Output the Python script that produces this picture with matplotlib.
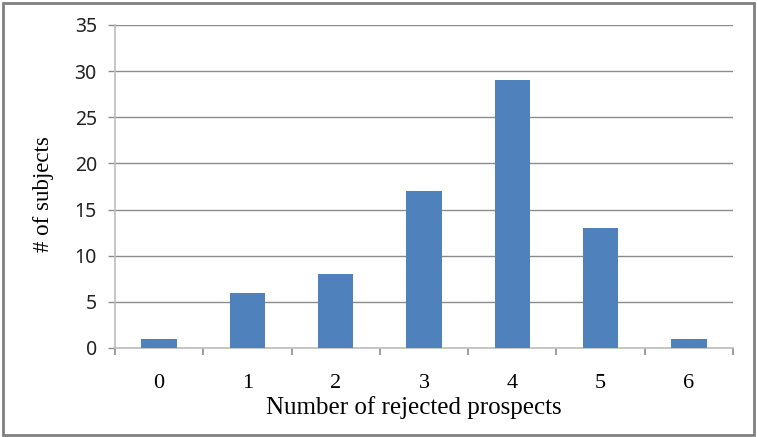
import matplotlib
matplotlib.use("Agg")
import matplotlib.pyplot as plt
from matplotlib.patches import Rectangle

# Data
categories = ["0", "1", "2", "3", "4", "5", "6"]
counts = [1, 6, 8, 17, 29, 13, 1]
y_ticks = [0, 5, 10, 15, 20, 25, 30, 35]

fig = plt.figure(figsize=(7.57, 4.37), dpi=100)
ax = fig.add_axes([0.1519, 0.2037, 0.8164, 0.7391])

x = list(range(len(categories)))
ax.bar(x, counts, width=0.4, color="#4F81BD", zorder=3)

ax.set_xlim(-0.5, len(categories) - 0.5)
ax.set_ylim(0, 35)
ax.set_yticks(y_ticks)
ax.set_yticklabels([str(v) for v in y_ticks], family="Noto Sans", fontsize=14, color="#222222")
ax.grid(axis="y", color="#8c8c8c", linewidth=1, zorder=0)

# category labels at centres, tick marks at boundaries
ax.set_xticks(x)
ax.set_xticklabels(categories, family="Liberation Serif", fontsize=16)
ax.tick_params(axis="x", length=0, pad=19)
ax.set_xticks([i - 0.5 for i in range(len(categories) + 1)], minor=True)
ax.tick_params(axis="x", which="minor", length=5, color="#8c8c8c", width=1.2)
ax.tick_params(axis="y", length=5, color="#8c8c8c", width=1, pad=8)

for side in ["top", "right"]:
    ax.spines[side].set_visible(False)
ax.spines["left"].set_color("#bdbdbd")
ax.spines["left"].set_linewidth(1.2)
ax.spines["bottom"].set_color("#bdbdbd")
ax.spines["bottom"].set_linewidth(1.2)

fig.text(414 / 757, 1 - 408 / 437, "Number of rejected prospects",
         family="Liberation Serif", fontsize=18, ha="center", va="center")
fig.text(44 / 757, 1 - 194 / 437, "# of subjects", family="Liberation Serif",
         fontsize=16.5, rotation=90, ha="center", va="center")

# outer chart border
fig.patches.append(Rectangle((0.004, 0.004), 0.992, 0.99, transform=fig.transFigure,
                             fill=False, edgecolor="#808080", linewidth=2))

fig.savefig("out.png", dpi=100)
